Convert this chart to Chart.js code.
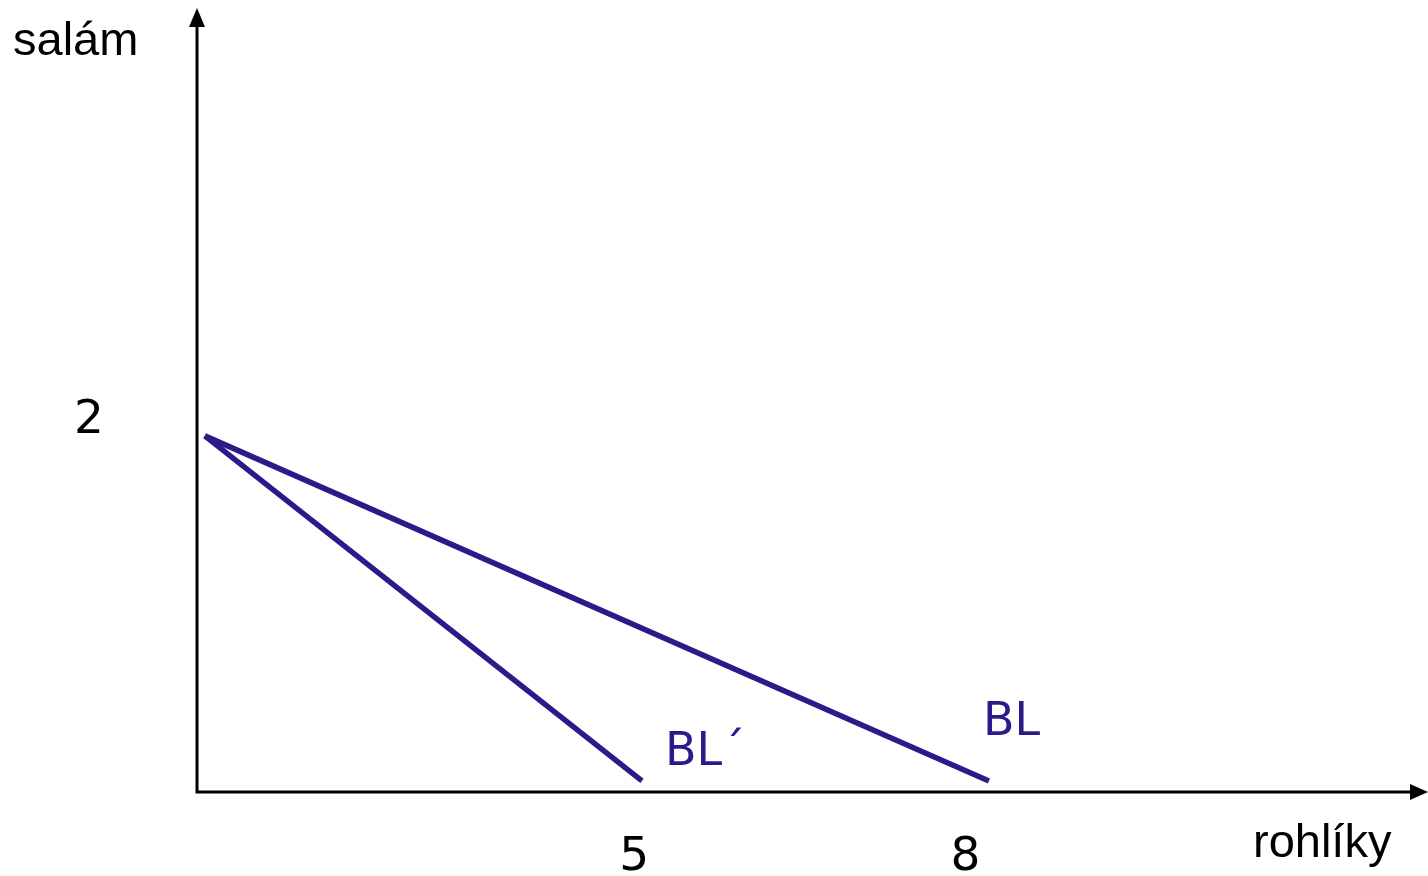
<!DOCTYPE html>
<html>
<head>
<meta charset="utf-8">
<title>salám / rohlíky</title>
<script src="https://cdn.jsdelivr.net/npm/chart.js@4/dist/chart.umd.min.js"></script>
<style>
    html, body { margin: 0; padding: 0; background: #fff; }
    #wrap { width: 1428px; height: 876px; }
</style>
</head>
<body>
<div id="wrap"><canvas id="budgetChart"></canvas></div>
<script>
// data (drawing is not to scale, so the ends sit where they are drawn)
const seriesNames = ["BL", "BL´"];
const blX = [0, 8];
const blY = [2, 0];
const blPrimeX = [0, 4.46];
const blPrimeY = [2, 0];

// axis ticks: where the labels are written, and what they say
const xTickValues = [4.38, 7.76];
const xTickLabels = ["5", "8"];
const yTickValues = [2.12];
const yTickLabels = ["2"];

const xTitle = "rohlíky";
const yTitle = "salám";

const lineColor = "#2a1a8a";

function toPoints(xs, ys) {
    return xs.map((x, i) => ({ x: x, y: ys[i] }));
}

// axes with arrows, tick labels, titles and line labels
const sketchPlugin = {
    id: "sketch",
    afterDatasetsDraw(chart) {
        const ctx = chart.ctx;
        const xs = chart.scales.x, ys = chart.scales.y;
        const x0 = xs.getPixelForValue(xs.min);
        const y0 = ys.getPixelForValue(ys.min);
        const xEnd = xs.getPixelForValue(xs.max);
        const yEnd = ys.getPixelForValue(ys.max);

        ctx.save();
        ctx.strokeStyle = "#000";
        ctx.fillStyle = "#000";
        ctx.lineWidth = 3;
        ctx.beginPath();
        ctx.moveTo(x0, y0);
        ctx.lineTo(x0, yEnd + 16);
        ctx.moveTo(x0 - 1.5, y0);
        ctx.lineTo(xEnd - 16, y0);
        ctx.stroke();

        // arrow heads
        ctx.beginPath();
        ctx.moveTo(x0, yEnd);
        ctx.lineTo(x0 - 8, yEnd + 19);
        ctx.lineTo(x0 + 8, yEnd + 19);
        ctx.closePath();
        ctx.fill();
        ctx.beginPath();
        ctx.moveTo(xEnd, y0);
        ctx.lineTo(xEnd - 18, y0 - 8);
        ctx.lineTo(xEnd - 18, y0 + 8);
        ctx.closePath();
        ctx.fill();

        // tick labels
        ctx.font = "47px 'DejaVu Sans'";
        ctx.textAlign = "center";
        ctx.textBaseline = "alphabetic";
        xTickValues.forEach((v, i) => {
            ctx.fillText(xTickLabels[i], xs.getPixelForValue(v), y0 + 78);
        });
        yTickValues.forEach((v, i) => {
            ctx.fillText(yTickLabels[i], x0 - 108, ys.getPixelForValue(v) + 18);
        });

        // axis titles
        ctx.font = "47px 'Liberation Sans'";
        ctx.textAlign = "left";
        ctx.fillText(yTitle, 13, 55);
        ctx.fillText(xTitle, 1253, 857);

        // line labels next to the end of each line
        ctx.fillStyle = lineColor;
        ctx.font = "46px 'DejaVu Sans'";
        const offsets = [[-6, -46], [23, -16]];
        chart.data.datasets.forEach((ds, i) => {
            const pt = chart.getDatasetMeta(i).data[1];
            ctx.fillText(ds.label, pt.x + offsets[i][0], pt.y + offsets[i][1]);
        });
        ctx.restore();
    }
};

const chart = new Chart(document.getElementById("budgetChart").getContext("2d"), {
    type: "scatter",
    data: {
        datasets: [
            {
                label: seriesNames[0],
                data: toPoints(blX, blY),
                showLine: true,
                borderColor: lineColor,
                borderWidth: 5.5,
                pointRadius: 0,
            },
            {
                label: seriesNames[1],
                data: toPoints(blPrimeX, blPrimeY),
                showLine: true,
                borderColor: lineColor,
                borderWidth: 5.5,
                pointRadius: 0,
            },
        ],
    },
    options: {
        responsive: true,
        maintainAspectRatio: false,
        animation: false,
        layout: { padding: { left: 197, top: 8, right: 0, bottom: 84 } },
        plugins: {
            legend: { display: false },
            tooltip: { enabled: false },
        },
        scales: {
            x: { type: "linear", display: false, min: -0.08, max: 12.48 },
            y: { type: "linear", display: false, min: -0.064, max: 4.48 },
        },
    },
    plugins: [sketchPlugin],
});
</script>
</body>
</html>
